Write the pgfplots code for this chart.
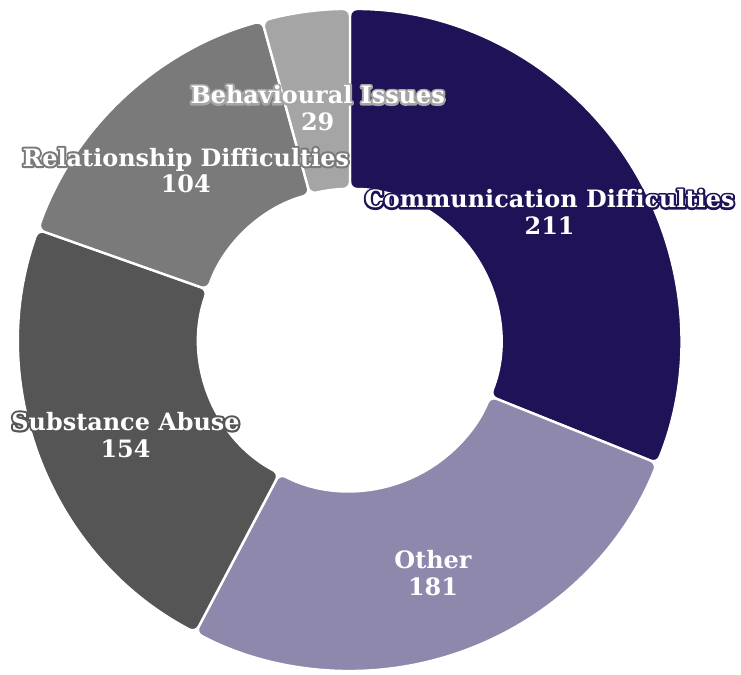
\documentclass[border=0pt]{standalone}
\usepackage{pgfplots}
\pgfplotsset{compat=1.18}
\usepackage{pgfplotstable}
\usepackage{fontspec}
\setmainfont{DejaVu Serif}
\definecolor{cComm}{HTML}{1F1257}
\definecolor{cOther}{HTML}{8E88AD}
\definecolor{cSub}{HTML}{555555}
\definecolor{cRel}{HTML}{7A7A7A}
\definecolor{cBeh}{HTML}{A5A5A5}
% text with a halo: a stroked copy in the halo colour under the white text
\newcommand\halo[2]{\leavevmode\rlap{\textcolor{#1}{\special{pdf:literal direct 1 Tr 4.2 w 1 j}#2\special{pdf:literal direct 0 Tr 0.4 w 0 j}}}#2}
\pgfplotstableread[col sep=comma]{
label,value,color
Communication Difficulties,211,cComm
Other,181,cOther
Substance Abuse,154,cSub
Relationship Difficulties,104,cRel
Behavioural Issues,29,cBeh
}\piedata
\def\Rout{331}
\def\Rin{151}
\def\cx{350}
\def\cy{335}
\def\Rlab{241}
\def\labdy{-7}
\pgfplotstablegetrowsof{\piedata}
\pgfmathtruncatemacro\lastrow{\pgfplotsretval-1}
\gdef\total{0}
\foreach \i in {0,...,\lastrow}{%
  \pgfplotstablegetelem{\i}{value}\of\piedata
  \pgfmathsetmacro\tmp{\total+\pgfplotsretval}%
  \xdef\total{\tmp}%
}
\pgfmathsetmacro\dpu{360/\total}
\gdef\cum{0}
\foreach \i in {0,...,\lastrow}{%
  \pgfplotstablegetelem{\i}{value}\of\piedata
  \let\val\pgfplotsretval
  \pgfmathsetmacro\sa{90-\cum*\dpu}%
  \pgfmathsetmacro\ea{90-(\cum+\val)*\dpu}%
  \pgfmathsetmacro\ma{(\sa+\ea)/2}%
  \pgfmathsetmacro\xos{\cx+\Rout*cos(\sa)}%
  \pgfmathsetmacro\yos{\cy+\Rout*sin(\sa)}%
  \pgfmathsetmacro\xie{\cx+\Rin*cos(\ea)}%
  \pgfmathsetmacro\yie{\cy+\Rin*sin(\ea)}%
  \pgfmathsetmacro\xl{\cx+\Rlab*cos(\ma)}%
  \pgfmathsetmacro\yl{\cy+\Rlab*sin(\ma)+\labdy}%
  \expandafter\xdef\csname sa\i\endcsname{\sa}%
  \expandafter\xdef\csname ea\i\endcsname{\ea}%
  \expandafter\xdef\csname xos\i\endcsname{\xos}%
  \expandafter\xdef\csname yos\i\endcsname{\yos}%
  \expandafter\xdef\csname xie\i\endcsname{\xie}%
  \expandafter\xdef\csname yie\i\endcsname{\yie}%
  \expandafter\xdef\csname xl\i\endcsname{\xl}%
  \expandafter\xdef\csname yl\i\endcsname{\yl}%
  \expandafter\xdef\csname val\i\endcsname{\val}%
  \pgfmathsetmacro\tmp{\cum+\val}%
  \xdef\cum{\tmp}%
  \pgfplotstablegetelem{\i}{label}\of\piedata
  \expandafter\xdef\csname lab\i\endcsname{\pgfplotsretval}%
  \pgfplotstablegetelem{\i}{color}\of\piedata
  \expandafter\xdef\csname col\i\endcsname{\pgfplotsretval}%
}
\begin{document}
\begin{tikzpicture}
\begin{axis}[x=1bp, y=1bp, xmin=0, xmax=741, ymin=0, ymax=675,
  hide axis, clip=false]
\coordinate (bl) at (axis cs:0,0);
\coordinate (tr) at (axis cs:741,675);
\pgfplotsinvokeforeach{0,...,4}{%
  \edef\slicecmd{\noexpand\fill[fill=\csname col#1\endcsname, draw=white,
    line width=2.4bp, rounded corners=7bp]
    (axis cs:\csname xos#1\endcsname,\csname yos#1\endcsname)
    arc[start angle=\csname sa#1\endcsname, end angle=\csname ea#1\endcsname, radius=\Rout]
    -- (axis cs:\csname xie#1\endcsname,\csname yie#1\endcsname)
    arc[start angle=\csname ea#1\endcsname, end angle=\csname sa#1\endcsname, radius=\Rin]
    -- cycle;}%
  \slicecmd
}
\pgfplotsinvokeforeach{0,...,4}{%
  \edef\labcmd{\noexpand\node[align=center, text=white, inner sep=0pt,
    font=\noexpand\fontsize{24}{27}\noexpand\selectfont\noexpand\bfseries]
    at (axis cs:\csname xl#1\endcsname,\csname yl#1\endcsname)
    {\noexpand\halo{\csname col#1\endcsname}{\csname lab#1\endcsname}\noexpand\\
     \noexpand\halo{\csname col#1\endcsname}{\csname val#1\endcsname}};}%
  \labcmd
}
\end{axis}
\pgfresetboundingbox
\useasboundingbox (bl) rectangle (tr);
\end{tikzpicture}
\end{document}
